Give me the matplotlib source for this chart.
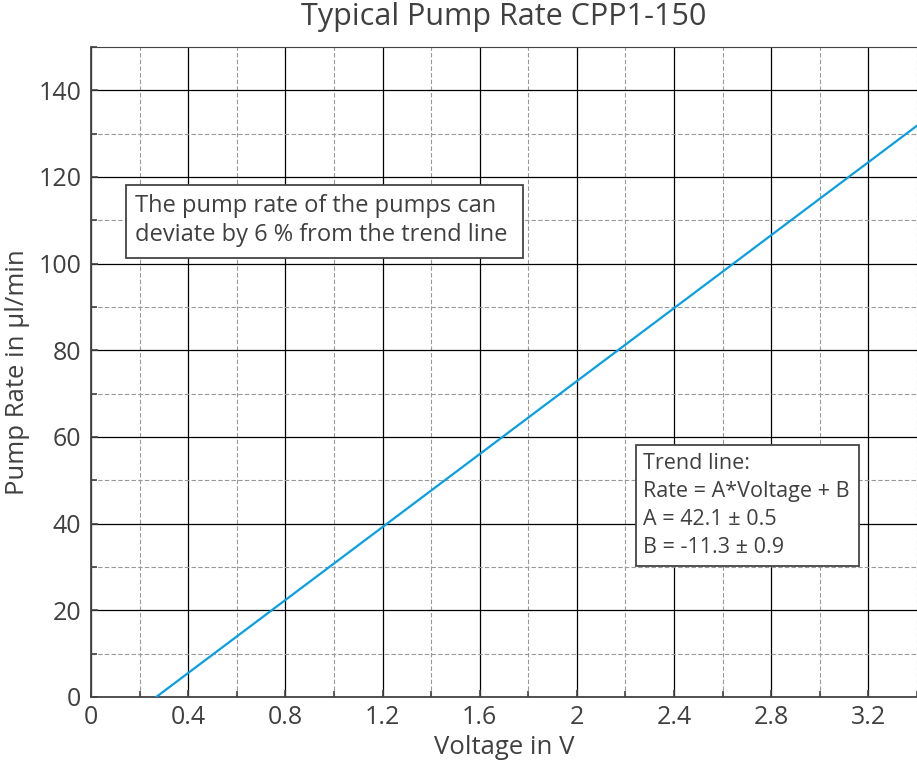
import matplotlib
matplotlib.use("Agg")
import matplotlib.pyplot as plt
import numpy as np
from matplotlib.patches import Rectangle
from matplotlib.ticker import MultipleLocator

# Trend line parameters
slope = 42.1
offset = -11.3
volt_start = -offset / slope
volt_end = 3.4

x_ticks = [0, 0.4, 0.8, 1.2, 1.6, 2, 2.4, 2.8, 3.2]
x_tick_labels = ["0", "0.4", "0.8", "1.2", "1.6", "2", "2.4", "2.8", "3.2"]
y_ticks = [0, 20, 40, 60, 80, 100, 120, 140]

note_text = "The pump rate of the pumps can\ndeviate by 6 % from the trend line"
trend_text = "Trend line:\nRate = A*Voltage + B\nA = 42.1 \u00b1 0.5\nB = -11.3 \u00b1 0.9"

text_color = "#404040"
plt.rcParams["font.family"] = ["Open Sans", "DejaVu Sans"]


def add_box(ax, x0, x1, y0, y1):
    """Draw a white framed box in data coordinates."""
    ax.add_patch(Rectangle((x0, y0), x1 - x0, y1 - y0, fc="white",
                           ec="#444444", lw=1.3, zorder=4))


def main():
    fig = plt.figure(figsize=(9.17, 7.63), dpi=100)
    ax = fig.add_axes([91 / 917, 1 - 697 / 763, 826 / 917, 650 / 763])

    volts = np.array([volt_start, volt_end])
    ax.plot(volts, slope * volts + offset, color="#0A9FE0", lw=1.6, zorder=3)

    ax.set_xlim(0, 3.4)
    ax.set_ylim(0, 150)
    ax.set_xticks(x_ticks)
    ax.set_xticklabels(x_tick_labels)
    ax.set_yticks(y_ticks)
    ax.xaxis.set_minor_locator(MultipleLocator(0.2))
    ax.yaxis.set_minor_locator(MultipleLocator(10))

    # Grid: solid black major, dashed gray minor
    ax.grid(which="major", color="black", lw=0.9, ls="-")
    ax.grid(which="minor", color="#999999", lw=0.8, ls=(0, (4, 2)))
    ax.set_axisbelow(True)

    ax.tick_params(which="both", direction="in", colors="#444444",
                   labelcolor=text_color, labelsize=18)
    ax.tick_params(which="major", length=5, width=1.2)
    ax.tick_params(which="minor", length=4, width=1.2)
    ax.tick_params(axis="x", which="major", pad=6)
    ax.tick_params(axis="y", which="major", pad=7)
    for side in ["left", "bottom"]:
        ax.spines[side].set_color("#444444")
        ax.spines[side].set_linewidth(1.3)
    ax.spines["top"].set_color("#444444")
    ax.spines["right"].set_visible(False)

    ax.set_xlabel("Voltage in V", fontsize=18.5, color=text_color, labelpad=3)
    ax.set_ylabel("Pump Rate in \u00b5l/min", fontsize=18.5, color=text_color, labelpad=6)
    ax.set_title("Typical Pump Rate CPP1-150", fontsize=22, color=text_color, pad=16)

    # Annotation boxes
    add_box(ax, 0.144, 1.777, 101.3, 118.2)
    ax.text(0.183, 110.0, note_text, fontsize=17, color=text_color,
            va="center", ha="left", linespacing=1.26, zorder=5)
    add_box(ax, 2.242, 3.162, 30.2, 58.2)
    ax.text(2.271, 44.2, trend_text, fontsize=15.5, color=text_color,
            va="center", ha="left", linespacing=1.45, zorder=5)

    fig.savefig("out.png", dpi=100)


if __name__ == "__main__":
    main()
